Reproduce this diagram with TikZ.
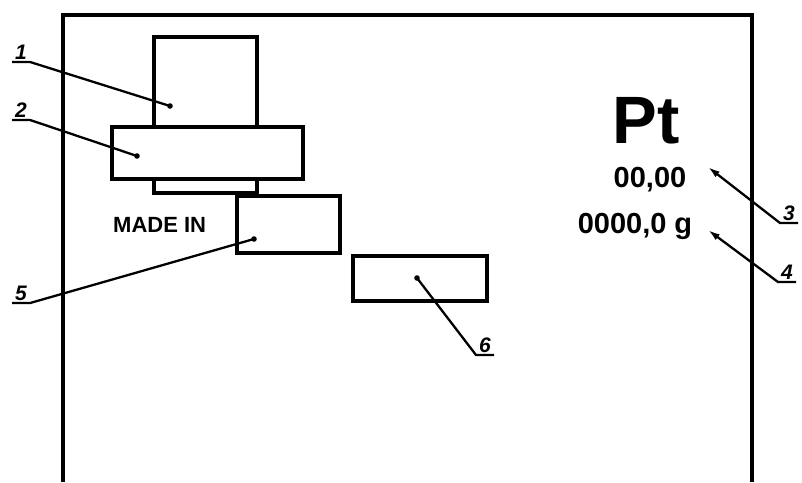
\documentclass[tikz,border=0pt]{standalone}
\usepackage{fontspec}
\setmainfont{Liberation Sans}
\usepackage{tikz}
\usetikzlibrary{calc,arrows.meta,positioning}

\begin{document}
\begin{tikzpicture}[x=1pt,y=-1pt,
    box/.style={draw,line width=3.2pt,fill=white,inner sep=0pt},
    callout/.style={font=\fontsize{21}{21}\selectfont\bfseries\itshape,inner xsep=3pt,inner ysep=2.5pt,anchor=south west},
    leader/.style={line width=2.3pt},
    pointer/.style={leader,-{Latex[length=12pt,width=7pt]}},
    mark text/.style={inner sep=0pt,anchor=base,font=\fontsize{29}{29}\selectfont\bfseries}]
    \useasboundingbox (0,0) rectangle (802,482);
    % frame, open at the bottom
    \draw[line width=4.4pt] (63,482) -- (63,15) -- (752,15) -- (752,482);

    \node[box,minimum width=103pt,minimum height=156pt] (b1) at (205.5,115) {};
    \node[box,minimum width=191pt,minimum height=52pt] (b2) at (207.5,153) {};
    \node[box,minimum width=103pt,minimum height=57pt] (b5) at (288.5,224.5) {};
    \node[box,minimum width=134pt,minimum height=45pt] (b6) at (420,278.5) {};

    \node[inner sep=0pt,anchor=base west,font=\fontsize{22}{22}\selectfont\bfseries] (made) at (113,232) {MADE IN};
    \node[mark text,font=\fontsize{67}{67}\selectfont\bfseries] (pt) at (646,143) {Pt};
    \node[mark text] (num) at (650,187) {00,00};
    \node[mark text] (mass) at (635,233) {0000,0 g};

    \coordinate (d1) at (170,106);
    \coordinate (d2) at (137,156);
    \coordinate (d5) at (254,239);
    \coordinate (d6) at (417,278);
    \coordinate (a3) at (708,167);
    \coordinate (a4) at (708,230);

    \node[callout] (n1) at (12,62) {1};
    \node[callout] (n2) at (12,120) {2};
    \node[callout] (n5) at (12,303) {5};
    \node[callout] (n6) at (476,355) {6};
    \node[callout] (n3) at (780,223) {3};
    \node[callout] (n4) at (778,282) {4};

    \foreach \n in {1,2,5} {
        \draw[leader] (n\n.south west) -- (n\n.south east) -- (d\n);
        \fill (d\n) circle (2.8pt);
    }
    \draw[leader] (n6.south east) -- (n6.south west) -- (d6);
    \fill (d6) circle (2.8pt);
    \draw[pointer] (n3.south east) -- (n3.south west) -- (a3);
    \draw[pointer] (n4.south east) -- (n4.south west) -- (a4);
\end{tikzpicture}
\end{document}
